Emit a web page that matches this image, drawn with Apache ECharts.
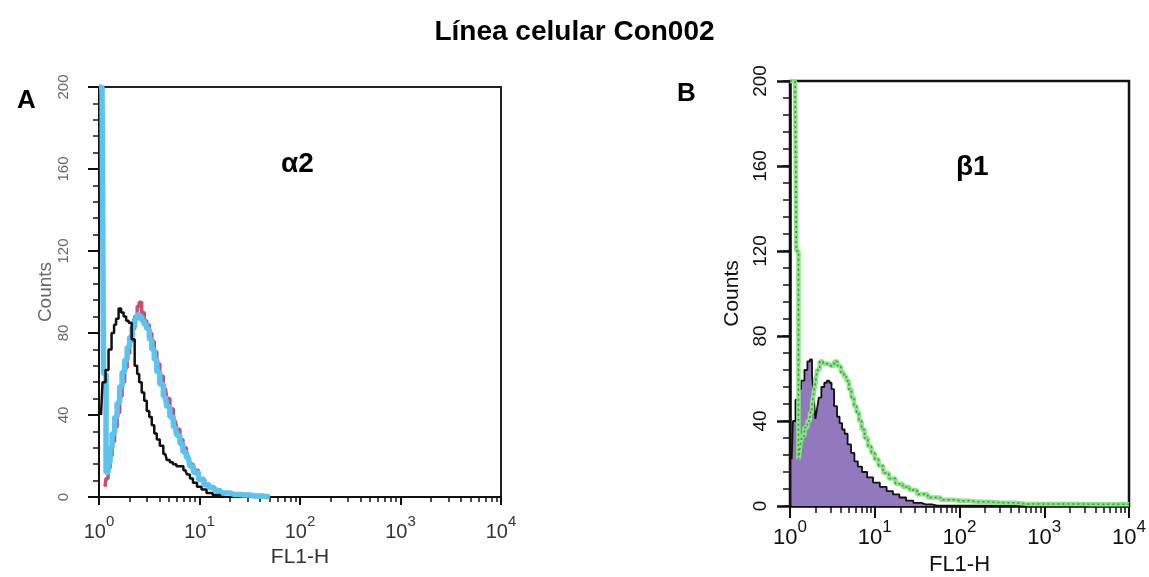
<!DOCTYPE html>
<html>
<head>
<meta charset="utf-8">
<script src="https://cdn.jsdelivr.net/npm/echarts@6/dist/echarts.min.js"></script>
<style>
  html, body { margin: 0; padding: 0; background: #ffffff; }
  #chart { width: 1149px; height: 577px; }
</style>
</head>
<body>
<div id="chart"></div>
<script>
// ---- data (x values are log10 of FL1-H, i.e. decades) ----
var decadeTicks = [0, 1, 2, 3, 4];
var minorTickValues = [2, 3, 4, 5, 6, 7, 8, 9, 20, 30, 40, 50, 60, 70, 80, 90,
  200, 300, 400, 500, 600, 700, 800, 900, 2000, 3000, 4000, 5000, 6000, 7000, 8000, 9000];
var yTicks = [0, 40, 80, 120, 160, 200];
var yMinorStep = 8;

// Panel A (alpha2)
var blackA_x = [0.02, 0.05, 0.08, 0.11, 0.14, 0.16, 0.18, 0.21, 0.23, 0.26, 0.28, 0.31, 0.34, 0.37, 0.39, 0.41, 0.44, 0.46, 0.49, 0.51, 0.54, 0.56, 0.59, 0.62, 0.66, 0.69, 0.72, 0.75, 0.79, 0.82, 0.86, 0.89, 0.92, 0.95, 1.00, 1.04, 1.10, 1.16, 1.25];
var blackA_y = [40, 56, 62, 72, 80, 84, 87, 92, 90, 88, 86, 85, 77, 64, 60, 56, 51, 47, 42, 39, 35, 31, 28, 25, 21, 18, 17, 16, 15, 15, 13, 11, 9, 7, 5, 3.7, 2, 1, 0];

var redA_x = [0.06, 0.08, 0.10, 0.12, 0.14, 0.17, 0.19, 0.22, 0.24, 0.27, 0.29, 0.32, 0.34, 0.37, 0.39, 0.41, 0.44, 0.46, 0.49, 0.51, 0.54, 0.56, 0.59, 0.62, 0.66, 0.69, 0.72, 0.76, 0.79, 0.82, 0.85, 0.89, 0.92, 0.96, 1.02, 1.07, 1.12, 1.18, 1.25, 1.35, 1.45, 1.55];
var redA_y = [5, 9, 14, 20, 27, 34, 41, 49, 56, 63, 70, 76, 82, 88, 93, 95, 90, 86, 84, 80, 76, 71, 65, 59, 53, 48, 43, 37, 33, 28, 24, 20, 16, 13, 9, 6.5, 4.5, 3, 2, 1.2, 0.6, 0];

var cyanA_x = [0.00, 0.03, 0.06, 0.08, 0.10, 0.12, 0.14, 0.17, 0.19, 0.22, 0.24, 0.27, 0.29, 0.32, 0.34, 0.37, 0.39, 0.41, 0.44, 0.46, 0.49, 0.51, 0.54, 0.56, 0.59, 0.62, 0.66, 0.69, 0.72, 0.76, 0.79, 0.82, 0.85, 0.89, 0.92, 0.96, 1.02, 1.07, 1.12, 1.18, 1.25, 1.35, 1.45, 1.55, 1.70];
var cyanA_y = [200, 200, 60, 12, 17, 24, 31, 39, 46, 54, 61, 67, 73, 78, 83, 87, 89, 88, 86, 84, 82, 77, 72, 67, 61, 55, 49, 44, 39, 34, 30, 26, 22, 19, 15, 12, 8.5, 6, 4.6, 3, 2, 1.2, 1, 0.5, 0];

// Panel B (beta1)
var purpleB_x = [0.02, 0.05, 0.08, 0.11, 0.15, 0.19, 0.22, 0.25, 0.27, 0.29, 0.31, 0.33, 0.35, 0.39, 0.42, 0.45, 0.48, 0.50, 0.54, 0.57, 0.60, 0.63, 0.66, 0.70, 0.74, 0.78, 0.82, 0.88, 0.94, 1.02, 1.10, 1.18, 1.25, 1.33, 1.41, 1.50, 1.60, 1.75];
var purpleB_y = [22, 40, 50, 55, 59, 64, 68, 69, 62, 51, 41, 46, 51, 56, 58, 59, 58, 55, 47, 42, 39, 36, 34, 29, 25, 21, 18.5, 16, 13.5, 11, 9, 7, 5.5, 4, 2.5, 1.5, 0.8, 0];

var greenB_x = [0.00, 0.03, 0.06, 0.09, 0.11, 0.13, 0.15, 0.19, 0.22, 0.25, 0.27, 0.29, 0.31, 0.33, 0.37, 0.41, 0.46, 0.50, 0.54, 0.58, 0.62, 0.65, 0.68, 0.71, 0.74, 0.77, 0.80, 0.83, 0.86, 0.90, 0.94, 0.98, 1.02, 1.07, 1.13, 1.20, 1.29, 1.37, 1.45, 1.55, 1.70, 1.85, 2.00, 2.20, 2.50, 2.80, 3.20, 3.60, 4.00];
var greenB_y = [200, 200, 200, 120, 22, 28, 33, 37, 40, 44, 48, 53, 58, 64, 68, 67, 67, 66, 68, 66, 63, 61, 59, 55, 51, 47, 44, 40, 36, 32, 28, 25, 22, 19, 15.5, 13, 10.5, 9, 7.5, 5.5, 4, 3, 2.5, 2, 1.5, 1, 1, 0.8, 0.8];

function pairs(xs, ys) {
  return xs.map(function (x, i) { return [x, ys[i]]; });
}
var FONT = 'Liberation Sans';

function xMain(grid, opts) {
  return {
    type: 'value', gridIndex: grid, min: decadeTicks[0], max: decadeTicks[decadeTicks.length - 1], interval: 1,
    name: 'FL1-H', nameLocation: 'middle', nameGap: opts.nameGap,
    nameTextStyle: { fontFamily: FONT, fontSize: opts.nameSize, color: opts.color },
    axisLine: { show: true, onZero: false, lineStyle: { color: '#111', width: opts.lineWidth } },
    axisTick: { show: true, length: opts.majorLen, lineStyle: { color: '#111', width: 2 } },
    splitLine: { show: false },
    axisLabel: {
      margin: opts.margin, color: opts.color,
      formatter: function (v) { return '{b|10}{s|' + v + '}'; },
      rich: {
        b: { fontFamily: FONT, fontSize: opts.labelSize, color: opts.color, lineHeight: opts.labelSize + 8, verticalAlign: 'bottom' },
        s: { fontFamily: FONT, fontSize: Math.round(opts.labelSize * 0.75), color: opts.color, lineHeight: opts.labelSize + 8, verticalAlign: 'top' }
      }
    }
  };
}
function xMinor(grid, len) {
  return {
    type: 'value', gridIndex: grid, min: 0, max: 4, position: 'bottom',
    axisLine: { show: false, onZero: false },
    axisLabel: { show: false },
    splitLine: { show: false },
    axisTick: { show: true, length: len, customValues: minorTickValues.map(Math.log10), lineStyle: { color: '#111', width: 1.5 } }
  };
}
function yAxis(grid, opts) {
  return {
    type: 'value', gridIndex: grid, position: 'left', min: yTicks[0], max: yTicks[yTicks.length - 1], interval: 40,
    name: 'Counts', nameLocation: 'middle', nameGap: opts.nameGap, nameRotate: 90,
    nameTextStyle: { fontFamily: FONT, fontSize: opts.nameSize, color: opts.color },
    axisLine: { show: true, onZero: false, lineStyle: { color: '#111', width: opts.lineWidth } },
    axisTick: { show: false },
    splitLine: { show: false },
    axisLabel: { rotate: 90, margin: opts.margin, fontFamily: FONT, fontSize: opts.labelSize, color: opts.color }
  };
}
// narrow tick strips beside each y axis: the y ticks are drawn as split lines of a 0..200 axis
function stripX(grid) {
  return { type: 'value', gridIndex: grid, min: 0, max: 1, show: false, axisLine: { show: false, onZero: false }, splitLine: { show: false } };
}
function stripY(grid, step, w) {
  return {
    type: 'value', gridIndex: grid, min: yTicks[0], max: yTicks[yTicks.length - 1], interval: step,
    axisLine: { show: false, onZero: false }, axisTick: { show: false }, axisLabel: { show: false },
    splitLine: { show: true, lineStyle: { color: '#111', width: w, type: 'solid' } }
  };
}
function stripGrid(left, top, width, height) {
  return { left: left, top: top, width: width, height: height, outerBoundsMode: 'none', containLabel: false, show: false };
}

var chart = echarts.init(document.getElementById('chart'), null, { renderer: 'canvas' });
chart.setOption({
  backgroundColor: '#ffffff',
  animation: false,
  title: [
    { text: 'Línea celular Con002', left: 'center', top: 13, textStyle: { fontFamily: FONT, fontSize: 28, fontWeight: 'bold', color: '#000' } },
    { text: 'A', left: 12, top: 83, textStyle: { fontFamily: FONT, fontSize: 26, fontWeight: 'bold', color: '#000' } },
    { text: 'B', left: 672, top: 76, textStyle: { fontFamily: FONT, fontSize: 26, fontWeight: 'bold', color: '#000' } },
    { text: 'α2', left: 276, top: 145, textStyle: { fontFamily: FONT, fontSize: 28, fontWeight: 'bold', color: '#000' } },
    { text: 'β1', left: 951, top: 148, textStyle: { fontFamily: FONT, fontSize: 28, fontWeight: 'bold', color: '#000' } }
  ],
  grid: [
    { left: 99, top: 87, width: 402, height: 410, outerBoundsMode: 'none', containLabel: false, show: true, borderColor: '#222', borderWidth: 2, backgroundColor: 'transparent' },
    { left: 790, top: 81, width: 339, height: 425, outerBoundsMode: 'none', containLabel: false, show: true, borderColor: '#111', borderWidth: 2.5, backgroundColor: 'transparent' },
    stripGrid(88, 87, 11, 410),   // 2: A major ticks
    stripGrid(93, 87, 6, 410),    // 3: A minor ticks
    stripGrid(777, 81, 13, 425),  // 4: B major ticks
    stripGrid(783, 81, 7, 425)    // 5: B minor ticks
  ],
  xAxis: [
    xMain(0, { nameGap: 45, nameSize: 21, color: '#333', majorLen: 8, margin: 17, labelSize: 20, lineWidth: 2 }),
    xMain(1, { nameGap: 44, nameSize: 22, color: '#111', majorLen: 12, margin: 13, labelSize: 22, lineWidth: 2.5 }),
    xMinor(0, 5),
    xMinor(1, 7),
    stripX(2), stripX(3), stripX(4), stripX(5)
  ],
  yAxis: [
    yAxis(0, { nameGap: 44, nameSize: 19, color: '#666', margin: 28, labelSize: 15, lineWidth: 2 }),
    yAxis(1, { nameGap: 47, nameSize: 21, color: '#111', margin: 20, labelSize: 19, lineWidth: 2.5 }),
    stripY(2, 40, 2),
    stripY(3, yMinorStep, 1.5),
    stripY(4, 40, 2.5),
    stripY(5, yMinorStep, 1.5)
  ],
  series: [
    { type: 'line', name: 'control A', xAxisIndex: 0, yAxisIndex: 0, data: pairs(blackA_x, blackA_y), step: 'middle', symbol: 'none', lineStyle: { color: '#111', width: 2.5 }, z: 4 },
    { type: 'line', name: 'α2 red', xAxisIndex: 0, yAxisIndex: 0, data: pairs(redA_x, redA_y), step: 'middle', symbol: 'none', lineStyle: { color: '#c94f6d', width: 3.5 }, z: 2 },
    { type: 'line', name: 'α2 cyan', xAxisIndex: 0, yAxisIndex: 0, data: pairs(cyanA_x, cyanA_y), step: 'middle', symbol: 'none', lineStyle: { color: '#5cc2ee', width: 5.5 }, z: 3 },
    { type: 'line', name: 'control B', xAxisIndex: 1, yAxisIndex: 1, data: pairs(purpleB_x, purpleB_y), step: 'middle', symbol: 'none', lineStyle: { color: '#111', width: 1.8 }, areaStyle: { color: '#9279bd', opacity: 1 }, z: 2 },
    { type: 'line', name: 'β1 green', xAxisIndex: 1, yAxisIndex: 1, data: pairs(greenB_x, greenB_y), step: 'middle', symbol: 'none', lineStyle: { color: '#8de388', width: 4.5 }, z: 3 },
    { type: 'line', name: 'β1 green dots', xAxisIndex: 1, yAxisIndex: 1, data: pairs(greenB_x, greenB_y), step: 'middle', symbol: 'none', lineStyle: { color: '#2f9a36', width: 1.5, type: [2, 3] }, z: 4 }
  ]
});
</script>
</body>
</html>
